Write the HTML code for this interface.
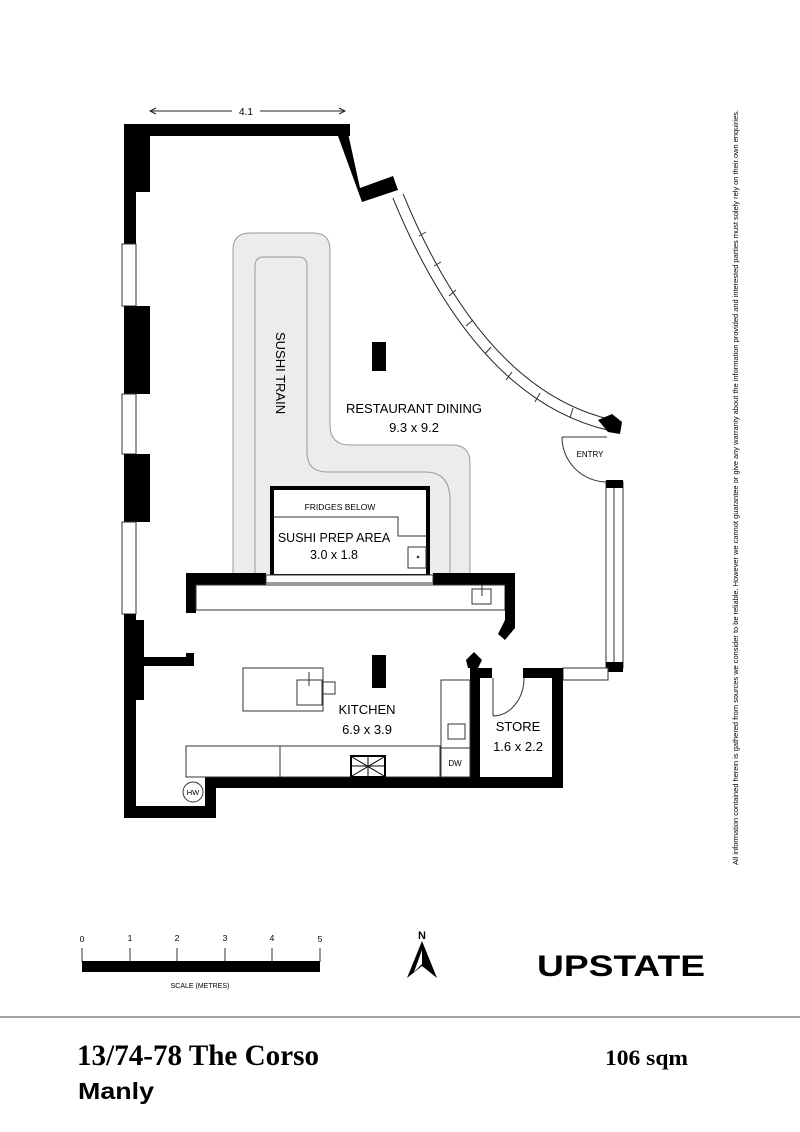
<!DOCTYPE html>
<html><head><meta charset="utf-8"><style>
html,body{margin:0;padding:0;background:#fff;width:800px;height:1132px;overflow:hidden}
svg{display:block}
text{font-family:"Liberation Sans",sans-serif}
</style></head><body>
<svg width="800" height="1132" viewBox="0 0 800 1132" xmlns="http://www.w3.org/2000/svg">
<line x1="150" y1="111" x2="232" y2="111" stroke="#222" stroke-width="1"/>
<line x1="260" y1="111" x2="345" y2="111" stroke="#222" stroke-width="1"/>
<polyline points="156,108 150,111 156,114" fill="none" stroke="#222"/>
<polyline points="339,108 345,111 339,114" fill="none" stroke="#222"/>
<text x="246" y="115" font-size="10" text-anchor="middle">4.1</text>

<path d="M233,575 V250 Q233,233 250,233 H313 Q330,233 330,250 V425 Q330,445 350,445 H452 Q470,445 470,463 V575 Z" fill="#ececec" stroke="#999" stroke-width="1"/>
<path d="M255,575 V266 Q255,257 264,257 H298 Q307,257 307,266 V452 Q307,472 327,472 H425 Q450,472 450,500 V575" fill="none" stroke="#999" stroke-width="1"/>
<text transform="translate(276,332) rotate(90)" font-size="13" text-anchor="start">SUSHI TRAIN</text>

<rect x="272" y="488" width="156" height="88" fill="#fff" stroke="#000" stroke-width="4"/>
<polyline points="274,517 398,517 398,536 426,536" fill="none" stroke="#333" stroke-width="1"/>
<text x="340" y="510" font-size="8.5" text-anchor="middle">FRIDGES BELOW</text>
<text x="334" y="542" font-size="12.5" text-anchor="middle">SUSHI PREP AREA</text>
<text x="334" y="559" font-size="12.5" text-anchor="middle">3.0 x 1.8</text>
<rect x="408" y="547" width="18" height="21" fill="#fff" stroke="#333"/>
<circle cx="418" cy="557" r="1.3" fill="#333"/>

<rect x="186" y="573" width="80" height="12" fill="#000"/>
<rect x="433" y="573" width="82" height="12" fill="#000"/>
<rect x="266" y="575" width="167" height="8" fill="#fff" stroke="#333" stroke-width="1"/>
<rect x="186" y="573" width="10" height="40" fill="#000"/>
<rect x="196" y="585" width="309" height="25" fill="#fff" stroke="#333" stroke-width="1"/>
<rect x="505" y="573" width="10" height="55" fill="#000"/>
<polygon points="505,620 515,628 505,640 498,634" fill="#000"/>
<rect x="472" y="589" width="19" height="15" fill="#fff" stroke="#333"/>
<line x1="482" y1="585" x2="482" y2="596" stroke="#333"/>

<rect x="124" y="124" width="226" height="12" fill="#000"/>
<polygon points="346,124 360,188 393,176 398,190 362,202 338,136" fill="#000"/>
<rect x="124" y="124" width="26" height="68" fill="#000"/>
<rect x="124" y="124" width="12" height="120" fill="#000"/>
<rect x="122" y="244" width="14" height="62" fill="#fff" stroke="#333" stroke-width="1"/>
<rect x="124" y="306" width="26" height="88" fill="#000"/>
<rect x="122" y="394" width="14" height="60" fill="#fff" stroke="#333" stroke-width="1"/>
<rect x="124" y="454" width="26" height="68" fill="#000"/>
<rect x="122" y="522" width="14" height="92" fill="#fff" stroke="#333" stroke-width="1"/>
<rect x="124" y="614" width="12" height="204" fill="#000"/>
<rect x="124" y="620" width="20" height="80" fill="#000"/>
<rect x="144" y="657" width="50" height="9" fill="#000"/>
<rect x="186" y="653" width="8" height="13" fill="#000"/>
<rect x="124" y="806" width="92" height="12" fill="#000"/>
<rect x="205" y="777" width="11" height="41" fill="#000"/>
<rect x="205" y="777" width="358" height="11" fill="#000"/>

<path d="M398,196 Q480,395 610,425" fill="none" stroke="#222" stroke-width="12"/>
<path d="M398,196 Q480,395 610,425" fill="none" stroke="#fff" stroke-width="10"/>
<g stroke="#333" stroke-width="1">
<line x1="419" y1="236" x2="426" y2="232"/><line x1="434" y1="266" x2="441" y2="262"/><line x1="449" y1="296" x2="456" y2="290"/><line x1="466" y1="326" x2="473" y2="320"/><line x1="485" y1="354" x2="491" y2="347"/><line x1="506" y1="380" x2="512" y2="372"/><line x1="535" y1="402" x2="540" y2="393"/><line x1="570" y1="418" x2="573" y2="408"/>
</g>
<polygon points="598,420 612,414 622,422 620,434 608,432" fill="#000"/>

<line x1="562" y1="437" x2="607" y2="437" stroke="#333"/>
<path d="M562,437 A45,45 0 0 0 607,482" fill="none" stroke="#333"/>
<text x="590" y="457" font-size="8" text-anchor="middle">ENTRY</text>
<rect x="606" y="482" width="17" height="186" fill="#fff" stroke="#333"/>
<line x1="614" y1="488" x2="614" y2="662" stroke="#333"/>
<rect x="606" y="480" width="17" height="8" fill="#000"/>
<rect x="606" y="662" width="17" height="10" fill="#000"/>
<rect x="563" y="668" width="45" height="12" fill="#fff" stroke="#333"/>

<rect x="470" y="668" width="10" height="118" fill="#000"/>
<polygon points="468,668 466,660 474,652 482,660 478,668" fill="#000"/>
<rect x="480" y="668" width="12" height="10" fill="#000"/>
<rect x="523" y="668" width="40" height="10" fill="#000"/>
<rect x="552" y="668" width="11" height="119" fill="#000"/>
<line x1="493" y1="678" x2="493" y2="716" stroke="#333"/>
<path d="M493,716 A31,38 0 0 0 524,678" fill="none" stroke="#333"/>
<text x="518" y="731" font-size="13" text-anchor="middle">STORE</text>
<text x="518" y="751" font-size="13" text-anchor="middle">1.6 x 2.2</text>

<rect x="372" y="342" width="14" height="29" fill="#000"/>
<text x="414" y="413" font-size="13" text-anchor="middle">RESTAURANT DINING</text>
<text x="414" y="432" font-size="13" text-anchor="middle">9.3 x 9.2</text>
<rect x="372" y="655" width="14" height="33" fill="#000"/>
<rect x="243" y="668" width="80" height="43" fill="#fff" stroke="#333"/>
<rect x="297" y="680" width="25" height="25" fill="#fff" stroke="#333"/>
<line x1="309" y1="672" x2="309" y2="686" stroke="#333"/>
<rect x="323" y="682" width="12" height="12" fill="#fff" stroke="#333"/>
<rect x="186" y="746" width="254" height="31" fill="#fff" stroke="#333"/>
<line x1="280" y1="746" x2="280" y2="777" stroke="#333"/>
<rect x="441" y="680" width="29" height="97" fill="#fff" stroke="#333"/>
<line x1="441" y1="748" x2="470" y2="748" stroke="#333"/>
<rect x="448" y="724" width="17" height="15" fill="#fff" stroke="#333"/>
<text x="455" y="766" font-size="8" text-anchor="middle">DW</text>
<rect x="351" y="756" width="34" height="21" fill="#fff" stroke="#000" stroke-width="2"/>
<path d="M352,757 L384,776 M384,757 L352,776 M368,757 V776 M352,766 H384" stroke="#000" stroke-width="1"/>
<text x="367" y="714" font-size="13" text-anchor="middle">KITCHEN</text>
<text x="367" y="734" font-size="13" text-anchor="middle">6.9 x 3.9</text>
<circle cx="193" cy="792" r="10" fill="#fff" stroke="#333"/>
<text x="193" y="795" font-size="7.5" text-anchor="middle">HW</text>

<text transform="translate(738,865) rotate(-90)" font-size="7.4" textLength="755" lengthAdjust="spacingAndGlyphs">All information contained herein is gathered from sources we consider to be reliable. However we cannot guarantee or give any warranty about the information provided and interested parties must solely rely on their own enquiries.</text>

<g font-size="8.5" text-anchor="middle">
<text x="82" y="942">0</text><text x="130" y="941">1</text><text x="177" y="941">2</text><text x="225" y="941">3</text><text x="272" y="941">4</text><text x="320" y="942">5</text>
</g>
<g stroke="#333"><line x1="82" y1="948" x2="82" y2="962"/><line x1="130" y1="948" x2="130" y2="962"/><line x1="177" y1="948" x2="177" y2="962"/><line x1="225" y1="948" x2="225" y2="962"/><line x1="272" y1="948" x2="272" y2="962"/><line x1="320" y1="948" x2="320" y2="962"/></g>
<rect x="82" y="961" width="238" height="11" fill="#000"/>
<text x="200" y="988" font-size="7" text-anchor="middle">SCALE (METRES)</text>
<text x="422" y="939" font-size="11" font-weight="bold" text-anchor="middle">N</text>
<polygon points="422,941 407,978 422,966 437,978" fill="#000"/>
<polygon points="422,950 414,972 422,964" fill="#fff"/>
<text x="537" y="976" font-size="30" font-weight="bold" textLength="168" lengthAdjust="spacingAndGlyphs">UPSTATE</text>

<line x1="0" y1="1017" x2="800" y2="1017" stroke="#444" stroke-width="1"/>
<text x="77" y="1065" font-size="30" font-weight="bold" textLength="242" lengthAdjust="spacingAndGlyphs" style="font-family:'Liberation Serif',serif">13/74-78 The Corso</text>
<text x="78" y="1099" font-size="23" font-weight="bold" textLength="76" lengthAdjust="spacingAndGlyphs">Manly</text>
<text x="605" y="1065" font-size="22" font-weight="bold" textLength="83" lengthAdjust="spacingAndGlyphs" style="font-family:'Liberation Serif',serif">106 sqm</text>
</svg>
</body></html>
